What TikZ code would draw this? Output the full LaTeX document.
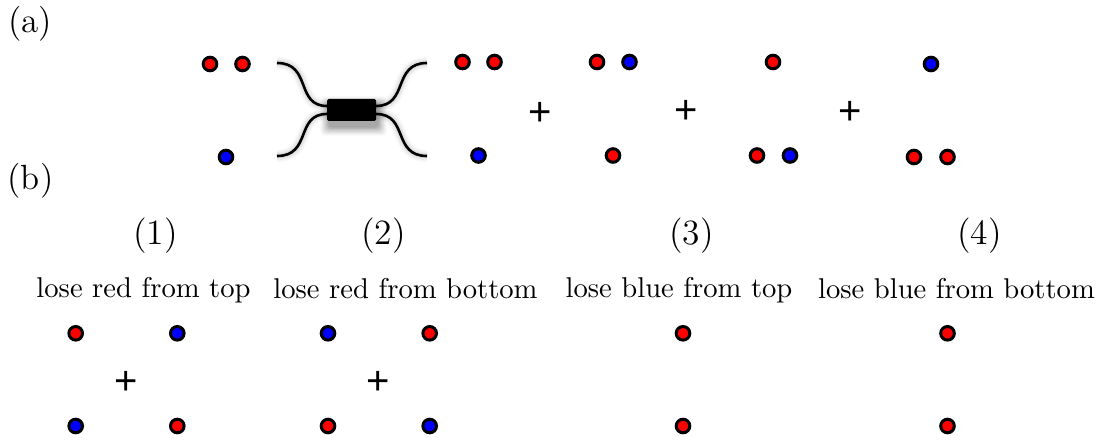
\documentclass[tikz,border=0pt]{standalone}
\usepackage{fontspec}
\setsansfont{Liberation Sans}
\newfontfamily\captionfont{lmroman10-regular.otf}
\newfontfamily\labelfont{lmroman12-regular.otf}
\tikzset{
  dotbase/.style={circle,draw=black,line width=3pt,minimum size=13.6pt,inner sep=0pt},
  reddot/.style={dotbase,fill=red},
  bluedot/.style={dotbase,fill=blue},
  plussign/.style={inner sep=0pt,font=\sffamily\fontsize{40}{40}\selectfont},
  caption/.style={inner sep=0pt,font=\captionfont\fontsize{28.6}{34}\selectfont},
  numlabel/.style={inner sep=0pt,font=\labelfont\fontsize{35.5}{42}\selectfont},
  partlabel/.style={inner sep=0pt,font=\labelfont\fontsize{35}{40}\selectfont},
  fibre/.style={line width=2.6pt,draw=black},
  coupler/.style={rectangle,rounded corners=1.5pt,fill=black,draw=none,minimum width=49pt,minimum height=22pt,inner sep=0pt}
}
\newcommand{\couplerpaths}{%
  (cL1) .. controls (cL1m) and (cL1n) .. (cLa)
  (cL2) .. controls (cL2m) and (cL2n) .. (cLb)
  (cR1) .. controls (cR1m) and (cR1n) .. (cRa)
  (cR2) .. controls (cR2m) and (cR2n) .. (cRb)}
\begin{document}
\begin{tikzpicture}[x=1pt,y=-1pt]
\useasboundingbox (0,0) rectangle (1105,441);
\coordinate (cL1) at (277,63);
\coordinate (cL1m) at (312,63);
\coordinate (cL1n) at (295,106);
\coordinate (cLa) at (327,106);
\coordinate (cL2) at (277,156);
\coordinate (cL2m) at (312,156);
\coordinate (cL2n) at (295,114);
\coordinate (cLb) at (327,114);
\coordinate (cR1) at (427,63);
\coordinate (cR1m) at (392,63);
\coordinate (cR1n) at (409,106);
\coordinate (cRa) at (376,106);
\coordinate (cR2) at (427,156);
\coordinate (cR2m) at (392,156);
\coordinate (cR2n) at (409,114);
\coordinate (cRb) at (376,114);
% soft shadow
\foreach \w/\o in {13/0.015,11/0.02,9/0.025,7/0.03,5/0.035,3/0.04,1/0.04}{
  \begin{scope}[xshift=5pt,yshift=-9pt]
    \draw[line width=\w pt,black,opacity=\o] \couplerpaths;
  \end{scope}
  \begin{scope}[xshift=2pt,yshift=-6pt]
    \fill[black,opacity=2*\o,rounded corners=4pt] (327-\w/1.5,99-\w/1.5) rectangle (376+\w/1.5,121+\w/1.5);
  \end{scope}
}
\draw[fibre] \couplerpaths;
\node[coupler] (box) at (351.5,110) {};

\node[partlabel] (pa) at (30,24) {(a)};
\node[partlabel] (pb) at (30.5,181) {(b)};

\node[reddot] (a1) at (210,64) {};
\node[reddot] (a2) at (242.5,64) {};
\node[bluedot] (a3) at (226,157) {};
\node[reddot] (b1) at (462.5,62) {};
\node[reddot] (b2) at (494.5,62) {};
\node[bluedot] (b3) at (478.5,155.5) {};
\node[plussign] (p1) at (540.5,114) {+};
\node[reddot] (c1) at (597,62) {};
\node[bluedot] (c2) at (629.5,62) {};
\node[reddot] (c3) at (613,155.5) {};
\node[plussign] (p2) at (686,112) {+};
\node[reddot] (d1) at (773,62) {};
\node[reddot] (d2) at (757,155.5) {};
\node[bluedot] (d3) at (790,155.5) {};
\node[plussign] (p3) at (850,113) {+};
\node[bluedot] (e1) at (931,64) {};
\node[reddot] (e2) at (914,157) {};
\node[reddot] (e3) at (947.5,157) {};

\node[numlabel] (n1) at (155.5,236) {(1)};
\node[numlabel] (n2) at (383.5,236) {(2)};
\node[numlabel] (n3) at (691.5,236) {(3)};
\node[numlabel] (n4) at (979.5,236) {(4)};
\node[caption] (t1) at (143.5,290) {lose red from top};
\node[caption] (t2) at (405.5,289) {lose red from bottom};
\node[caption] (t3) at (679,290) {lose blue from top};
\node[caption] (t4) at (956.5,289) {lose blue from bottom};

\node[reddot] (f1) at (75.7,333.3) {};
\node[bluedot] (f2) at (177.3,333.3) {};
\node[plussign] (p4) at (126,383) {+};
\node[bluedot] (f3) at (75.7,426) {};
\node[reddot] (f4) at (177.3,426) {};
\node[bluedot] (g1) at (328,333.3) {};
\node[reddot] (g2) at (429.7,333.3) {};
\node[plussign] (p5) at (378.3,383) {+};
\node[reddot] (g3) at (328,426) {};
\node[bluedot] (g4) at (429.7,426) {};
\node[reddot] (h1) at (683,333.3) {};
\node[reddot] (h2) at (683,426) {};
\node[reddot] (i1) at (947.5,333.3) {};
\node[reddot] (i2) at (947.5,426) {};
\end{tikzpicture}
\end{document}
